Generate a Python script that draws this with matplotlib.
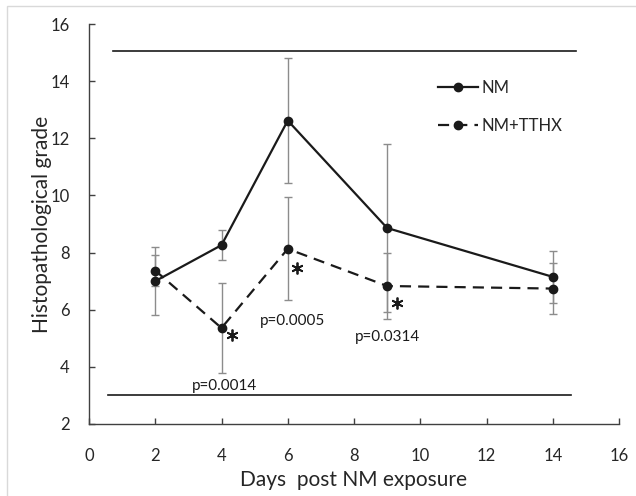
import matplotlib
matplotlib.use("Agg")
import matplotlib.pyplot as plt
from matplotlib.patches import Rectangle

plt.rcParams['font.family'] = ['Lato', 'DejaVu Sans']

days = [2, 4, 6, 9, 14]
nm_mean = [7.0, 8.26, 12.62, 8.86, 7.15]
nm_err = [1.2, 0.52, 2.19, 2.95, 0.9]
tthx_mean = [7.37, 5.36, 8.13, 6.83, 6.74]
tthx_err = [0.53, 1.58, 1.8, 1.16, 0.88]

star_x = [4.32, 6.28, 9.3]
star_y = [5.11, 7.46, 6.24]
p_labels = ["p=0.0014", "p=0.0005", "p=0.0314"]
p_x = [4.08, 6.13, 9.0]
p_y = [3.33, 5.6, 5.05]

ref_lines = [(15.07, 0.72, 14.7), (3.0, 0.58, 14.56)]

fig = plt.figure(figsize=(6.36, 4.96), dpi=100)
ax = fig.add_axes([89/636, 1-424/496, (619-89)/636, 400/496])

grey = '#8c8c8c'
ink = '#1a1a1a'
ax.errorbar(days, nm_mean, yerr=nm_err, fmt='none', ecolor=grey, elinewidth=1.0,
            capsize=3, capthick=1.0, zorder=1)
ax.errorbar(days, tthx_mean, yerr=tthx_err, fmt='none', ecolor=grey, elinewidth=1.0,
            capsize=3, capthick=1.0, zorder=1)
ax.plot(days, nm_mean, color=ink, lw=1.6, marker='o', ms=6, label='NM', zorder=3)
ax.plot(days, tthx_mean, color=ink, lw=1.6, marker='o', ms=6,
        linestyle=(0, (5, 3.2)), label='NM+TTHX', zorder=3)

for y, x0, x1 in ref_lines:
    ax.plot([x0, x1], [y, y], color=ink, lw=1.2, zorder=2)

ax.plot(star_x, star_y, linestyle='none', marker=(6, 2, 0), ms=8.5, mew=1.3,
        color=ink, zorder=4)
for x, y, t in zip(p_x, p_y, p_labels):
    ax.text(x, y, t, fontsize=11, ha='center', va='center', color=ink)

ax.set_xlim(0, 16)
ax.set_ylim(2, 16)
ax.set_xticks(range(0, 17, 2))
ax.set_yticks(range(2, 17, 2))
ax.spines['top'].set_visible(False)
ax.spines['right'].set_visible(False)
for s in ['left', 'bottom']:
    ax.spines[s].set_color('#404040')
    ax.spines[s].set_linewidth(1.0)
ax.tick_params(direction='in', length=4, width=1, color='#404040', labelsize=12,
               labelcolor='#262626')
ax.tick_params(axis='x', pad=17)
ax.tick_params(axis='y', pad=14)
ax.set_xlabel('Days  post NM exposure', fontsize=15, color='#262626')
ax.set_ylabel('Histopathological grade', fontsize=15, color='#262626')
ax.xaxis.set_label_coords(0.5, -(470-424)/400)
ax.yaxis.set_label_coords((52-89)/530, 0.5)

leg = ax.legend(loc='upper left', bbox_to_anchor=(438/636, 1-80/496),
                bbox_transform=fig.transFigure, frameon=False, fontsize=12,
                handlelength=2.4, handletextpad=0.2, labelspacing=1.3,
                borderpad=0, borderaxespad=0)
for t in leg.get_texts():
    t.set_color('#262626')

fig.patches.append(Rectangle((7/636, -0.01), 1.0, 1 - 6/496 + 0.01, transform=fig.transFigure,
                             fill=False, edgecolor='#d9d9d9', lw=1.0))

fig.savefig('out.png', dpi=100)
